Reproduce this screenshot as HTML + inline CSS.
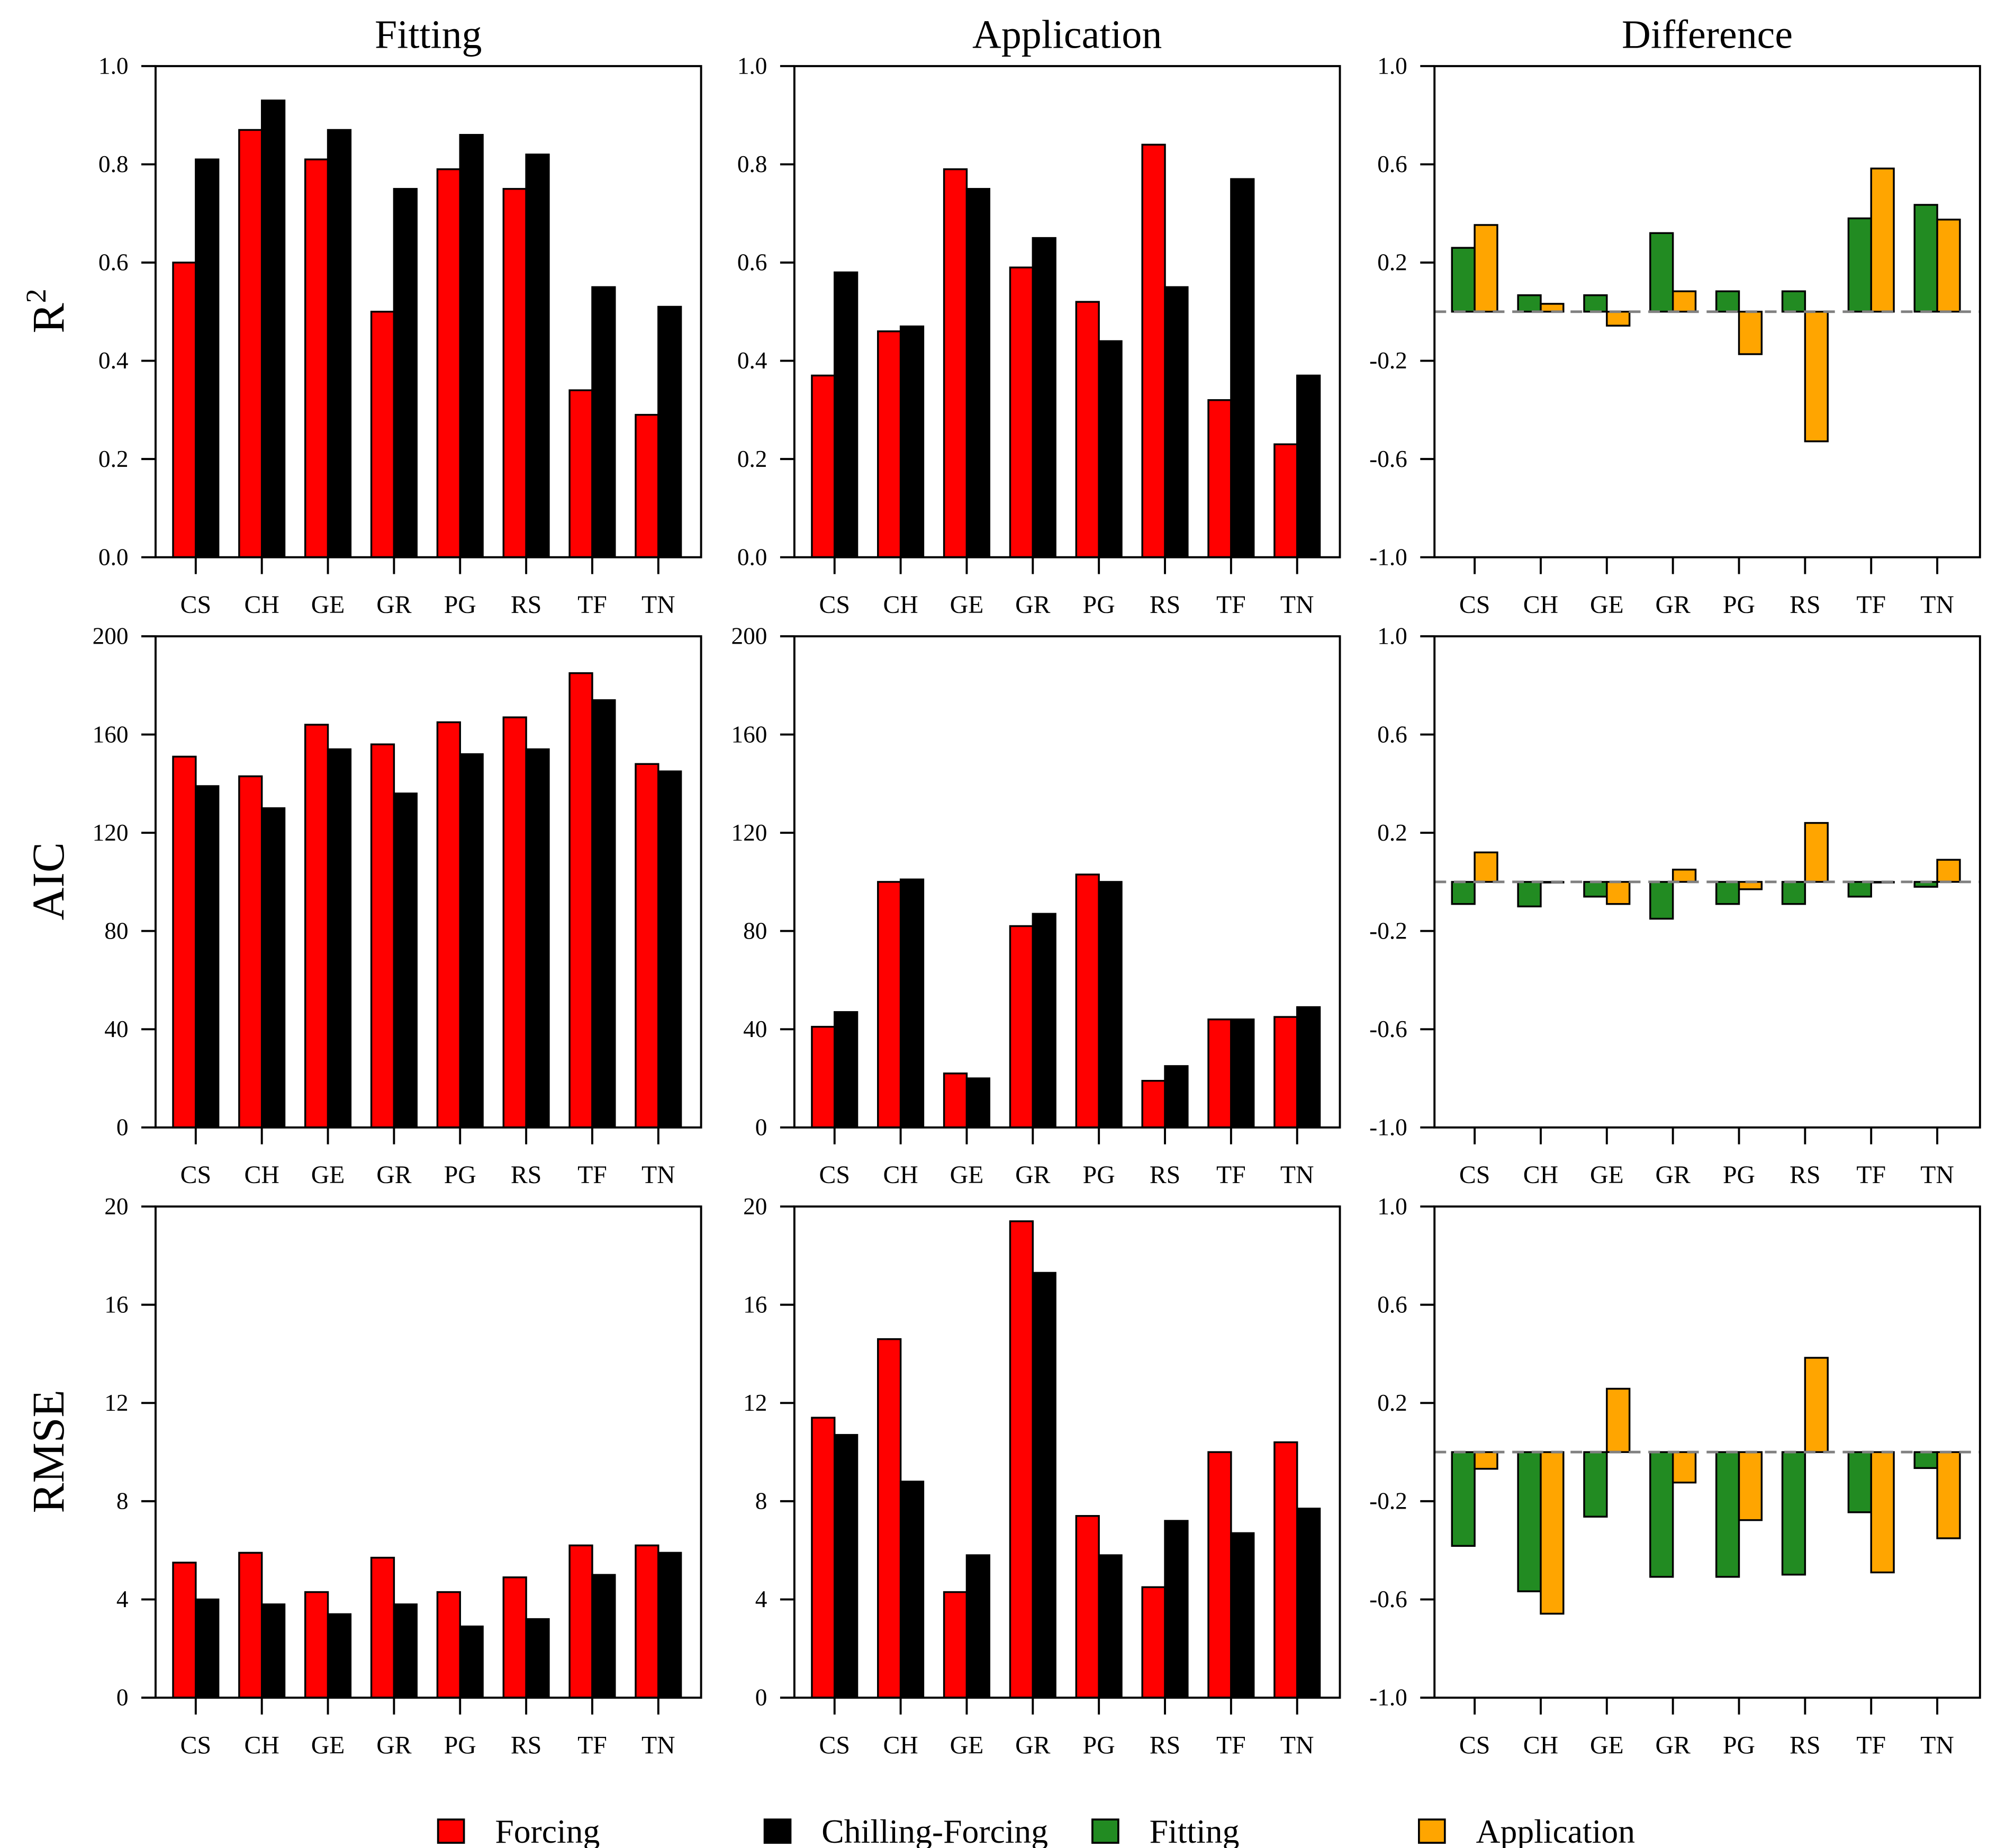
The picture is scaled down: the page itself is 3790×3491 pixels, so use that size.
<!DOCTYPE html>
<html><head><meta charset="utf-8">
<style>
html,body{margin:0;padding:0;background:#fff;}
svg{display:block;}
text{font-family:"Liberation Serif",serif;fill:#000;}
</style></head>
<body>
<svg id="chart" width="3790" height="3491" viewBox="0 0 1548 1426" xmlns="http://www.w3.org/2000/svg"></svg>
<script>
const categories = ["CS","CH","GE","GR","PG","RS","TF","TN"];
const r2FitForcing = [0.60,0.87,0.81,0.50,0.79,0.75,0.34,0.29];
const r2FitChill   = [0.81,0.93,0.87,0.75,0.86,0.82,0.55,0.51];
const r2AppForcing = [0.37,0.46,0.79,0.59,0.52,0.84,0.32,0.23];
const r2AppChill   = [0.58,0.47,0.75,0.65,0.44,0.55,0.77,0.37];
const r2DiffFit    = [0.26,0.067,0.067,0.32,0.083,0.083,0.38,0.435];
const r2DiffApp    = [0.353,0.032,-0.057,0.083,-0.173,-0.528,0.583,0.375];
const aicFitForcing = [151,143,164,156,165,167,185,148];
const aicFitChill   = [139,130,154,136,152,154,174,145];
const aicAppForcing = [41,100,22,82,103,19,44,45];
const aicAppChill   = [47,101,20,87,100,25,44,49];
const aicDiffFit    = [-0.09,-0.10,-0.06,-0.15,-0.09,-0.09,-0.06,-0.02];
const aicDiffApp    = [0.12,0.0,-0.09,0.05,-0.03,0.24,0.0,0.09];
const rmseFitForcing = [5.5,5.9,4.3,5.7,4.3,4.9,6.2,6.2];
const rmseFitChill   = [4.0,3.8,3.4,3.8,2.9,3.2,5.0,5.9];
const rmseAppForcing = [11.4,14.6,4.3,19.4,7.4,4.5,10.0,10.4];
const rmseAppChill   = [10.7,8.8,5.8,17.3,5.8,7.2,6.7,7.7];
const rmseDiffFit    = [-0.382,-0.567,-0.263,-0.508,-0.508,-0.499,-0.245,-0.065];
const rmseDiffApp    = [-0.068,-0.658,0.258,-0.124,-0.277,0.384,-0.49,-0.351];
const r2Ticks = ["0.0","0.2","0.4","0.6","0.8","1.0"];
const aicTicks = ["0","40","80","120","160","200"];
const rmseTicks = ["0","4","8","12","16","20"];
const diffTicks = ["-1.0","-0.6","-0.2","0.2","0.6","1.0"];
const colTitles = ["Fitting","Application","Difference"];
const legendLabels = ["Forcing","Chilling-Forcing","Fitting","Application"];
const legendColors = ["#ff0000","#000000","#228b22","#ffa500"];

const svg = document.getElementById('chart');
const NS = "http://www.w3.org/2000/svg";
function mk(tag, attrs, parent){const e=document.createElementNS(NS,tag);for(const k in attrs)e.setAttribute(k,attrs[k]);(parent||svg).appendChild(e);return e;}

const colX = [120,613,1107], W = 421;
const rowY = [51,491,931], H = 379;

function panel(ci, ri, name, ymin, ymax, ticks, s1, s2, c1, c2, isDiff){
  const g = mk('g',{});
  
  
  const x0 = colX[ci], y0 = rowY[ri];
  const ys = v => y0 + H - (v - ymin) / (ymax - ymin) * H;
  const xs = i => x0 + 31 + 51 * i;
  const bw = 17.5;
  categories.forEach((c, i) => {
    [[s1, c1, -bw], [s2, c2, 0]].forEach(([s, col, off], k) => {
      const base = isDiff ? 0 : ymin;
      const v = s[i];
      const ya = ys(Math.max(v, base)), yb = ys(Math.min(v, base));
      const r = mk('rect',{x:xs(i)+off, y:ya, width:bw, height:Math.max(yb-ya,0.5), fill:col, stroke:'#000','stroke-width':1.4}, g);
      
      
    });
  });
  if (isDiff) {
    const l = mk('line',{x1:x0, x2:x0+W, y1:ys(0), y2:ys(0), stroke:'#808080','stroke-width':2,'stroke-dasharray':'9,6'}, g);
    
    
  }
  const box = mk('rect',{x:x0, y:y0, width:W, height:H, fill:'none', stroke:'#000','stroke-width':1.6}, g);
  
  
  ticks.forEach((t, k) => {
    const v = ymin + (ymax - ymin) * k / (ticks.length - 1);
    const y = ys(v);
    mk('line',{x1:x0-11, x2:x0, y1:y, y2:y, stroke:'#000','stroke-width':1.6}, g);
    const tx = mk('text',{x:x0-21, y:y+6, 'text-anchor':'end','font-size':18.5}, g);
    tx.textContent = t;
    
    
  });
  categories.forEach((c, i) => {
    mk('line',{x1:xs(i), x2:xs(i), y1:y0+H, y2:y0+H+13, stroke:'#000','stroke-width':1.6}, g);
    const tx = mk('text',{x:xs(i), y:y0+H+43, 'text-anchor':'middle','font-size':19.5}, g);
    tx.textContent = c;
    
    
  });
}

panel(0,0,'r2-fitting',0,1,r2Ticks,r2FitForcing,r2FitChill,'#ff0000','#000000',false);
panel(1,0,'r2-application',0,1,r2Ticks,r2AppForcing,r2AppChill,'#ff0000','#000000',false);
panel(2,0,'r2-difference',-1,1,diffTicks,r2DiffFit,r2DiffApp,'#228b22','#ffa500',true);
panel(0,1,'aic-fitting',0,200,aicTicks,aicFitForcing,aicFitChill,'#ff0000','#000000',false);
panel(1,1,'aic-application',0,200,aicTicks,aicAppForcing,aicAppChill,'#ff0000','#000000',false);
panel(2,1,'aic-difference',-1,1,diffTicks,aicDiffFit,aicDiffApp,'#228b22','#ffa500',true);
panel(0,2,'rmse-fitting',0,20,rmseTicks,rmseFitForcing,rmseFitChill,'#ff0000','#000000',false);
panel(1,2,'rmse-application',0,20,rmseTicks,rmseAppForcing,rmseAppChill,'#ff0000','#000000',false);
panel(2,2,'rmse-difference',-1,1,diffTicks,rmseDiffFit,rmseDiffApp,'#228b22','#ffa500',true);

colTitles.forEach((t, i) => {
  const tx = mk('text',{x:colX[i]+W/2, y:37, 'text-anchor':'middle','font-size':31});
  tx.textContent = t;
  
  
});

const yl = [["R2",240],["AIC",680],["RMSE",1120]];
yl.forEach(([t, y]) => {
  const tx = mk('text',{x:0, y:0, 'text-anchor':'middle','font-size':35, transform:`translate(49,${y}) rotate(-90)`});
  if (t === "R2") {
    tx.textContent = "R";
    const sp = mk('tspan',{'font-size':22, dy:-14}, tx);
    sp.textContent = "2";
  } else tx.textContent = t;
  
  
});

const legX = [338,590,843,1095];
legendLabels.forEach((l, i) => {
  const g = mk('g',{});
  
  
  mk('rect',{x:legX[i], y:1404, width:20, height:18, fill:legendColors[i], stroke:'#000','stroke-width':1.5}, g);
  const tx = mk('text',{x:legX[i]+44, y:1422, 'font-size':26}, g);
  tx.textContent = l;
});
</script>
</body></html>
